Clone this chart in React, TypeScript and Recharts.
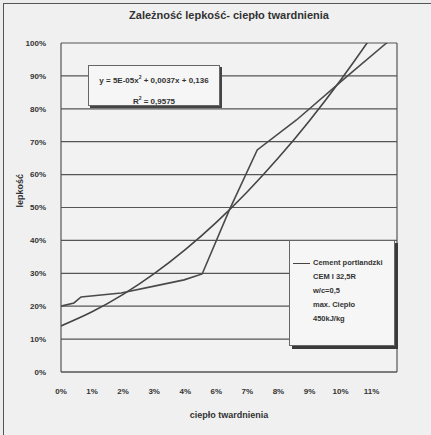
import { LineChart, Line, XAxis, YAxis, CartesianGrid, ReferenceLine } from 'recharts';

// measured curve: heat of hardening (%) vs viscosity (fraction)
const heatPct = [0, 0.46, 0.71, 2.13, 3.3, 4.36, 5.0, 5.96, 6.95, 8.34, 10.15, 11.53, 11.89];
const viscosity = [0.2, 0.21, 0.228, 0.24, 0.261, 0.28, 0.298, 0.492, 0.675, 0.766, 0.9, 1.0, 1.02];

// polynomial trend line
const trendHeat = [0, 1.1, 2.2, 3.3, 4.4, 5.5, 6.6, 7.7, 8.8, 9.9, 11, 11.88];
const trendViscosity = [0.14, 0.183, 0.236, 0.299, 0.372, 0.455, 0.548, 0.651, 0.764, 0.887, 1.02, 1.133];

const xTicks = [0, 1.1, 2.2, 3.3, 4.4, 5.5, 6.6, 7.7, 8.8, 9.9, 11];
const yTicks = [0, 0.1, 0.2, 0.3, 0.4, 0.5, 0.6, 0.7, 0.8, 0.9, 1];
const xMax = 11.9;

const legendLines = ['CEM I 32,5R', 'w/c=0,5', 'max. Ciepło', '450kJ/kg'];

const measured = heatPct.map((h, i) => ({ x: h, y: viscosity[i] }));
const trend = trendHeat.map((h, i) => ({ x: h, y: trendViscosity[i] }));

const FONT = '"Liberation Sans Narrow", "Liberation Sans", Arial, sans-serif';
const INK = '#333';
const GRID = '#555';

const LegendBox = () => (
  <div
    style={{
      position: 'absolute',
      left: 289,
      top: 240,
      width: 104,
      height: 104,
      background: '#f6f6f6',
      border: '1px solid #666',
      boxShadow: '3px 3px 0 #3a3a3a',
      fontFamily: FONT,
      fontWeight: 700,
      fontSize: 7.5,
      color: INK,
      lineHeight: '14px',
    }}
  >
    <div style={{ position: 'absolute', left: 3, top: 22, width: 17, borderTop: '1.5px solid #444' }} />
    <div style={{ position: 'absolute', left: 23, top: 15, whiteSpace: 'nowrap' }}>
      <div>Cement portlandzki</div>
      {legendLines.map((t) => (
        <div key={t}>{t}</div>
      ))}
    </div>
  </div>
);

export default function App() {
  return (
    <div
      style={{
        position: 'absolute',
        left: 0,
        top: 0,
        width: 431,
        height: 435,
        background: '#ececec',
        overflow: 'hidden',
      }}
    >
      <div
        style={{
          position: 'absolute',
          left: 3,
          top: 3,
          width: 440,
          height: 440,
          borderLeft: '1.5px solid #555',
          borderTop: '1.5px solid #555',
          background: '#f0f0f0',
        }}
      />
      <div
        style={{
          position: 'absolute',
          left: 61,
          width: 336,
          top: 9,
          textAlign: 'center',
          fontFamily: FONT,
          fontWeight: 700,
          fontSize: 11,
          color: INK,
        }}
      >
        Zależność lepkość- ciepło twardnienia
      </div>
      <div style={{ position: 'absolute', left: 0, top: 0 }}>
        <LineChart
          width={431}
          height={435}
          margin={{ top: 43, right: 34, bottom: 33, left: 6 }}
        >
          <CartesianGrid vertical={false} stroke={GRID} strokeWidth={1.2} fill="#f2f2f2" />
          <XAxis
            dataKey="x"
            type="number"
            domain={[0, xMax]}
            ticks={xTicks}
            allowDataOverflow
            tickFormatter={(v: number) => `${Math.round(v)}%`}
            tickLine={false}
            axisLine={{ stroke: GRID, strokeWidth: 1.2 }}
            tick={{ fill: INK, fontSize: 8, fontWeight: 700, fontFamily: FONT }}
            tickMargin={10}
            height={30}
            label={{
              value: 'ciepło twardnienia',
              position: 'insideBottom',
              offset: -16,
              fill: INK,
              fontSize: 9,
              fontWeight: 700,
              fontFamily: FONT,
            }}
          />
          <YAxis
            type="number"
            domain={[0, 1]}
            ticks={yTicks}
            allowDataOverflow
            tickFormatter={(v: number) => `${Math.round(v * 100)}%`}
            tickLine={false}
            axisLine={{ stroke: GRID, strokeWidth: 1.2 }}
            tick={{ fill: INK, fontSize: 8, fontWeight: 700, fontFamily: FONT }}
            tickMargin={9}
            width={55}
            label={{
              value: 'lepkość',
              angle: -90,
              position: 'insideLeft',
              offset: 14,
              fill: INK,
              fontSize: 9,
              fontWeight: 700,
              fontFamily: FONT,
            }}
          />
          <ReferenceLine x={xMax} stroke={GRID} strokeWidth={1.2} />
          <Line
            data={trend}
            dataKey="y"
            type="monotone"
            stroke="#444"
            strokeWidth={1.6}
            dot={false}
            isAnimationActive={false}
          />
          <Line
            data={measured}
            dataKey="y"
            name="Cement portlandzki"
            type="linear"
            stroke="#4a4a4a"
            strokeWidth={1.6}
            dot={false}
            isAnimationActive={false}
          />
        </LineChart>
      </div>
      <LegendBox />
      <div
        style={{
          position: 'absolute',
          left: 88,
          top: 65,
          width: 132,
          height: 41,
          background: '#f6f6f6',
          border: '1px solid #666',
          boxShadow: '2px 2px 0 #444',
          fontFamily: FONT,
          fontWeight: 700,
          fontSize: 8,
          color: INK,
          textAlign: 'center',
          lineHeight: '12px',
          paddingTop: 5,
          boxSizing: 'border-box',
        }}
      >
        <div>
          y = 5E-05x<sup style={{ fontSize: 5 }}>2</sup> + 0,0037x + 0,136
        </div>
        <div style={{ marginTop: 5 }}>
          R<sup style={{ fontSize: 5 }}>2</sup> = 0,9575
        </div>
      </div>
    </div>
  );
}
